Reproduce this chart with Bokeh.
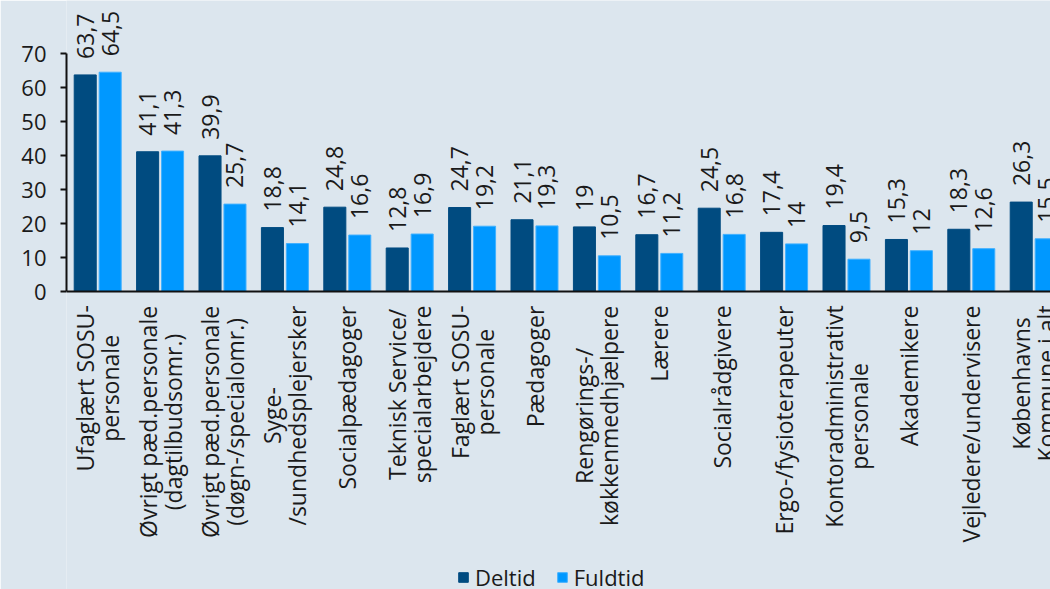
import math
from bokeh.plotting import figure
from bokeh.models import ColumnDataSource, Range1d, FixedTicker, Legend, LegendItem, Span
from bokeh.embed import file_html
from bokeh.resources import INLINE
from bokeh.core.properties import value

categories = [
    "Ufaglært SOSU-\npersonale",
    "Øvrigt pæd.personale\n(dagtilbudsomr.)",
    "Øvrigt pæd.personale\n(døgn-/specialomr.)",
    "Syge-\n/sundhedsplejersker",
    "Socialpædagoger",
    "Teknisk Service/\nspecialarbejdere",
    "Faglært SOSU-\npersonale",
    "Pædagoger",
    "Rengørings-/\nkøkkenmedhjælpere",
    "Lærere",
    "Socialrådgivere",
    "Ergo-/fysioterapeuter",
    "Kontoradministrativt\npersonale",
    "Akademikere",
    "Vejledere/undervisere",
    "Københavns\nKommune i alt",
]
deltid = [63.7, 41.1, 39.9, 18.8, 24.8, 12.8, 24.7, 21.1, 19, 16.7, 24.5, 17.4, 19.4, 15.3, 18.3, 26.3]
fuldtid = [64.5, 41.3, 25.7, 14.1, 16.6, 16.9, 19.2, 19.3, 10.5, 11.2, 16.8, 14, 9.5, 12, 12.6, 15.5]
y_ticks = [0, 10, 20, 30, 40, 50, 60, 70]
series_names = ["Deltid", "Fuldtid"]

BG = "#dce6ee"
C_DEL = "#004b80"
C_FUL = "#0098ff"
FONT = "Open Sans"
FS_TICK = "22px"
LAB_SZ = 23
FS_LAB = f"{LAB_SZ}px"
FS_VAL = "23px"
FS_LEG = "22px"
TXT = "#1a1a1a"

# approximate Open Sans advance widths (units per em 2048), used only to centre the
# lines of the two-line category labels against each other
_W = {
    " ": 532, "a": 1139, "b": 1255, "c": 975, "d": 1255, "e": 1149, "f": 694, "g": 1122,
    "h": 1257, "i": 518, "j": 518, "k": 1075, "l": 518, "m": 1905, "n": 1257, "o": 1237,
    "p": 1255, "r": 836, "s": 977, "t": 723, "u": 1257, "v": 1026, "y": 1028,
    "æ": 1804, "ø": 1237, "å": 1139, "A": 1296, "D": 1479, "E": 1124, "F": 1063,
    "K": 1214, "L": 1008, "O": 1599, "P": 1204, "R": 1243, "S": 1100, "T": 1108,
    "U": 1464, "V": 1237, "Ø": 1599, "(": 596, ")": 596, "-": 659, "/": 752, ".": 545,
}


def text_w(s):
    return sum(_W.get(ch, 1150) for ch in s) / 2048 * LAB_SZ


def fmt(v):
    return str(int(v)) if float(v).is_integer() else str(v).replace(".", ",")


centers = [i + 0.5 for i in range(len(categories))]
off = 0.2
bw = 0.353

src = ColumnDataSource(dict(
    xd=[c - off for c in centers],
    xf=[c + off for c in centers],
    deltid=deltid,
    fuldtid=fuldtid,
    ld=[fmt(v) for v in deltid],
    lf=[fmt(v) for v in fuldtid],
))

# one text per label line, lines centred on each other, block ending near the axis
lx, ly, lt, lxo, lyo = [], [], [], [], []
LINE_PITCH = 25
for c, cat in zip(centers, categories):
    lines = cat.split("\n")
    maxw = max(text_w(s) for s in lines)
    n = len(lines)
    for k, s in enumerate(lines):
        lx.append(c)
        ly.append(0)
        lt.append(s)
        lxo.append((k - (n - 1) / 2) * LINE_PITCH)
        lyo.append(14 + maxw / 2)
lab_src = ColumnDataSource(dict(x=lx, y=ly, t=lt, xo=lxo, yo=lyo))

W, H = 1050, 589
X0, Y0 = 66, 291       # frame left edge, pixel row of value 0
PXU_X, PXU_Y = 62.4, 3.4
p = figure(width=W, height=H, output_backend="svg", toolbar_location=None,
           x_range=Range1d(0, (W - X0) / PXU_X),
           y_range=Range1d(-(H - Y0) / PXU_Y, Y0 / PXU_Y),
           x_axis_location=None, min_border_left=X0, min_border_right=0,
           min_border_top=0, min_border_bottom=0)
p.background_fill_color = BG
p.border_fill_color = BG
p.outline_line_color = None
p.grid.visible = False

yax = p.yaxis[0]
yax.ticker = FixedTicker(ticks=y_ticks)
yax.bounds = (0, 70)
yax.axis_line_width = 2
yax.axis_line_color = "#111111"
yax.major_tick_line_width = 2
yax.major_tick_line_color = "#111111"
yax.major_tick_out = 6
yax.major_tick_in = 0
yax.minor_tick_line_color = None
yax.major_label_text_font = FONT
yax.major_label_text_font_size = FS_TICK
yax.major_label_text_color = TXT
yax.major_label_standoff = 14

r1 = p.vbar(x="xd", top="deltid", width=bw, source=src, fill_color=C_DEL, line_color=C_DEL)
r2 = p.vbar(x="xf", top="fuldtid", width=bw, source=src, fill_color=C_FUL, line_color="#3fb0ff",
            line_width=1)

p.add_layout(Span(location=0, dimension="width", line_color="#111111", line_width=2))

for xcol, ycol, lcol in (("xd", "deltid", "ld"), ("xf", "fuldtid", "lf")):
    p.text(x=xcol, y=ycol, text=lcol, source=src, angle=math.pi / 2, text_align="left",
           text_baseline="middle", y_offset=-16, text_font=value(FONT), text_font_size=FS_VAL,
           text_color=TXT)

p.text(x="x", y="y", text="t", source=lab_src, angle=math.pi / 2, text_align="center",
       text_baseline="middle", x_offset="xo", y_offset="yo", text_font=value(FONT),
       text_font_size=FS_LAB, text_color=TXT)

legend = Legend(items=[LegendItem(label=series_names[0], renderers=[r1]),
                       LegendItem(label=series_names[1], renderers=[r2])],
                location=(391, -3), orientation="horizontal",
                background_fill_alpha=0, border_line_alpha=0,
                label_text_font=FONT, label_text_font_size=FS_LEG, label_text_color=TXT,
                glyph_width=12, glyph_height=12, label_standoff=6, spacing=20,
                padding=0, margin=0)
p.add_layout(legend, "center")

open("out.html", "w").write(file_html(p, INLINE))
